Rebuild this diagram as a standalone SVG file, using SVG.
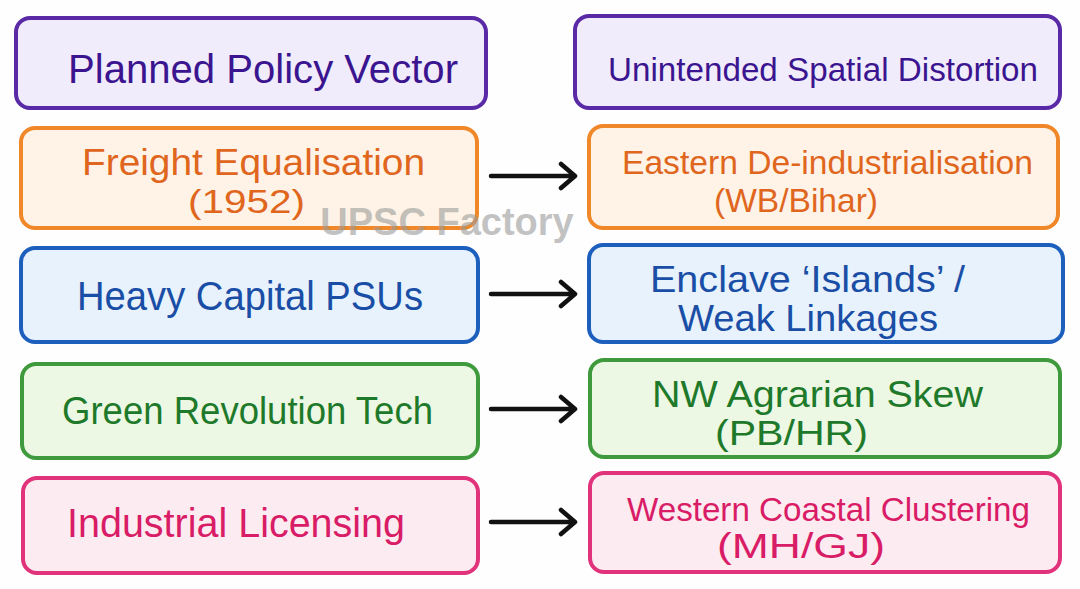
<svg xmlns="http://www.w3.org/2000/svg" width="1080" height="589" viewBox="0 0 1080 589">
<defs>
<style>
.bx{stroke-width:4;}
.t{font-family:"Liberation Sans","Noto Sans",sans-serif;text-anchor:start;}
.h{fill:#3b1590;}
.pur{fill:#f1ecfb;stroke:#5a2aa6;}
.org{fill:#fef3e6;stroke:#f0882a;}
.blu{fill:#e7f2fc;stroke:#1d5fbd;}
.grn{fill:#ecf8e4;stroke:#3e9a3c;}
.pnk{fill:#fdebf2;stroke:#e0337c;}
.to{fill:#e0661e;}
.tb{fill:#1a4ea6;}
.tg{fill:#1e7a2a;}
.tp{fill:#d91c66;}
.arr{stroke:#111;stroke-width:4.5;fill:none;stroke-linecap:round;stroke-linejoin:round;}
</style>
</defs>
<rect width="1080" height="589" fill="#fefefe"/>
<g id="hdr-left">
<rect class="bx pur" x="16" y="18" width="470" height="90" rx="14"/>
<text class="t h" x="68" y="83" font-size="41" textLength="390" lengthAdjust="spacingAndGlyphs">Planned Policy Vector</text>
</g>
<g id="hdr-right">
<rect class="bx pur" x="575" y="16" width="485" height="92" rx="14"/>
<text class="t h" x="608" y="81" font-size="33" textLength="430" lengthAdjust="spacingAndGlyphs">Unintended Spatial Distortion</text>
</g>
<g id="freight">
<rect class="bx org" x="21" y="128" width="456" height="100" rx="14"/>
<text class="t to" x="82" y="175" font-size="36" textLength="343" lengthAdjust="spacingAndGlyphs">Freight Equalisation</text>
<text class="t to" x="188" y="213" font-size="34" textLength="117" lengthAdjust="spacingAndGlyphs">(1952)</text>
</g>
<g id="psus">
<rect class="bx blu" x="21" y="248" width="457" height="94" rx="14"/>
<text class="t tb" x="77" y="310" font-size="40" textLength="346" lengthAdjust="spacingAndGlyphs">Heavy Capital PSUs</text>
</g>
<g id="green-rev">
<rect class="bx grn" x="22" y="364" width="456" height="94" rx="14"/>
<text class="t tg" x="62" y="424" font-size="39" textLength="371" lengthAdjust="spacingAndGlyphs">Green Revolution Tech</text>
</g>
<g id="licensing">
<rect class="bx pnk" x="23" y="478" width="455" height="95" rx="14"/>
<text class="t tp" x="67" y="537" font-size="40" textLength="338" lengthAdjust="spacingAndGlyphs">Industrial Licensing</text>
</g>
<g id="eastern">
<rect class="bx org" x="589" y="126" width="469" height="102" rx="14"/>
<text class="t to" x="622" y="174" font-size="34" textLength="411" lengthAdjust="spacingAndGlyphs">Eastern De-industrialisation</text>
<text class="t to" x="714" y="212" font-size="34" textLength="164" lengthAdjust="spacingAndGlyphs">(WB/Bihar)</text>
</g>
<g id="enclave">
<rect class="bx blu" x="589" y="245" width="474" height="97" rx="14"/>
<text class="t tb" x="650" y="292" font-size="36" textLength="315" lengthAdjust="spacingAndGlyphs">Enclave ‘Islands’ /</text>
<text class="t tb" x="678" y="331" font-size="36" textLength="260" lengthAdjust="spacingAndGlyphs">Weak Linkages</text>
</g>
<g id="nw-skew">
<rect class="bx grn" x="590" y="360" width="470" height="97" rx="14"/>
<text class="t tg" x="652" y="407" font-size="36" textLength="331" lengthAdjust="spacingAndGlyphs">NW Agrarian Skew</text>
<text class="t tg" x="715" y="445" font-size="35" textLength="153" lengthAdjust="spacingAndGlyphs">(PB/HR)</text>
</g>
<g id="western">
<rect class="bx pnk" x="590" y="473" width="470" height="99" rx="14"/>
<text class="t tp" x="627" y="521" font-size="34" textLength="403" lengthAdjust="spacingAndGlyphs">Western Coastal Clustering</text>
<text class="t tp" x="717" y="558" font-size="35" textLength="168" lengthAdjust="spacingAndGlyphs">(MH/GJ)</text>
</g>
<g id="connectors">
<path class="arr" d="M491 176 H574 M561 164 L575 176 L561 188"/>
<path class="arr" d="M491 294 H574 M561 282 L575 294 L561 306"/>
<path class="arr" d="M491 409 H574 M561 397 L575 409 L561 421"/>
<path class="arr" d="M491 522 H574 M561 510 L575 522 L561 534"/>
</g>
<text x="447" y="235" font-family="Liberation Sans, sans-serif" font-weight="bold" font-size="38" fill="#9a9a9a" fill-opacity="0.6" text-anchor="middle">UPSC Factory</text>
</svg>
